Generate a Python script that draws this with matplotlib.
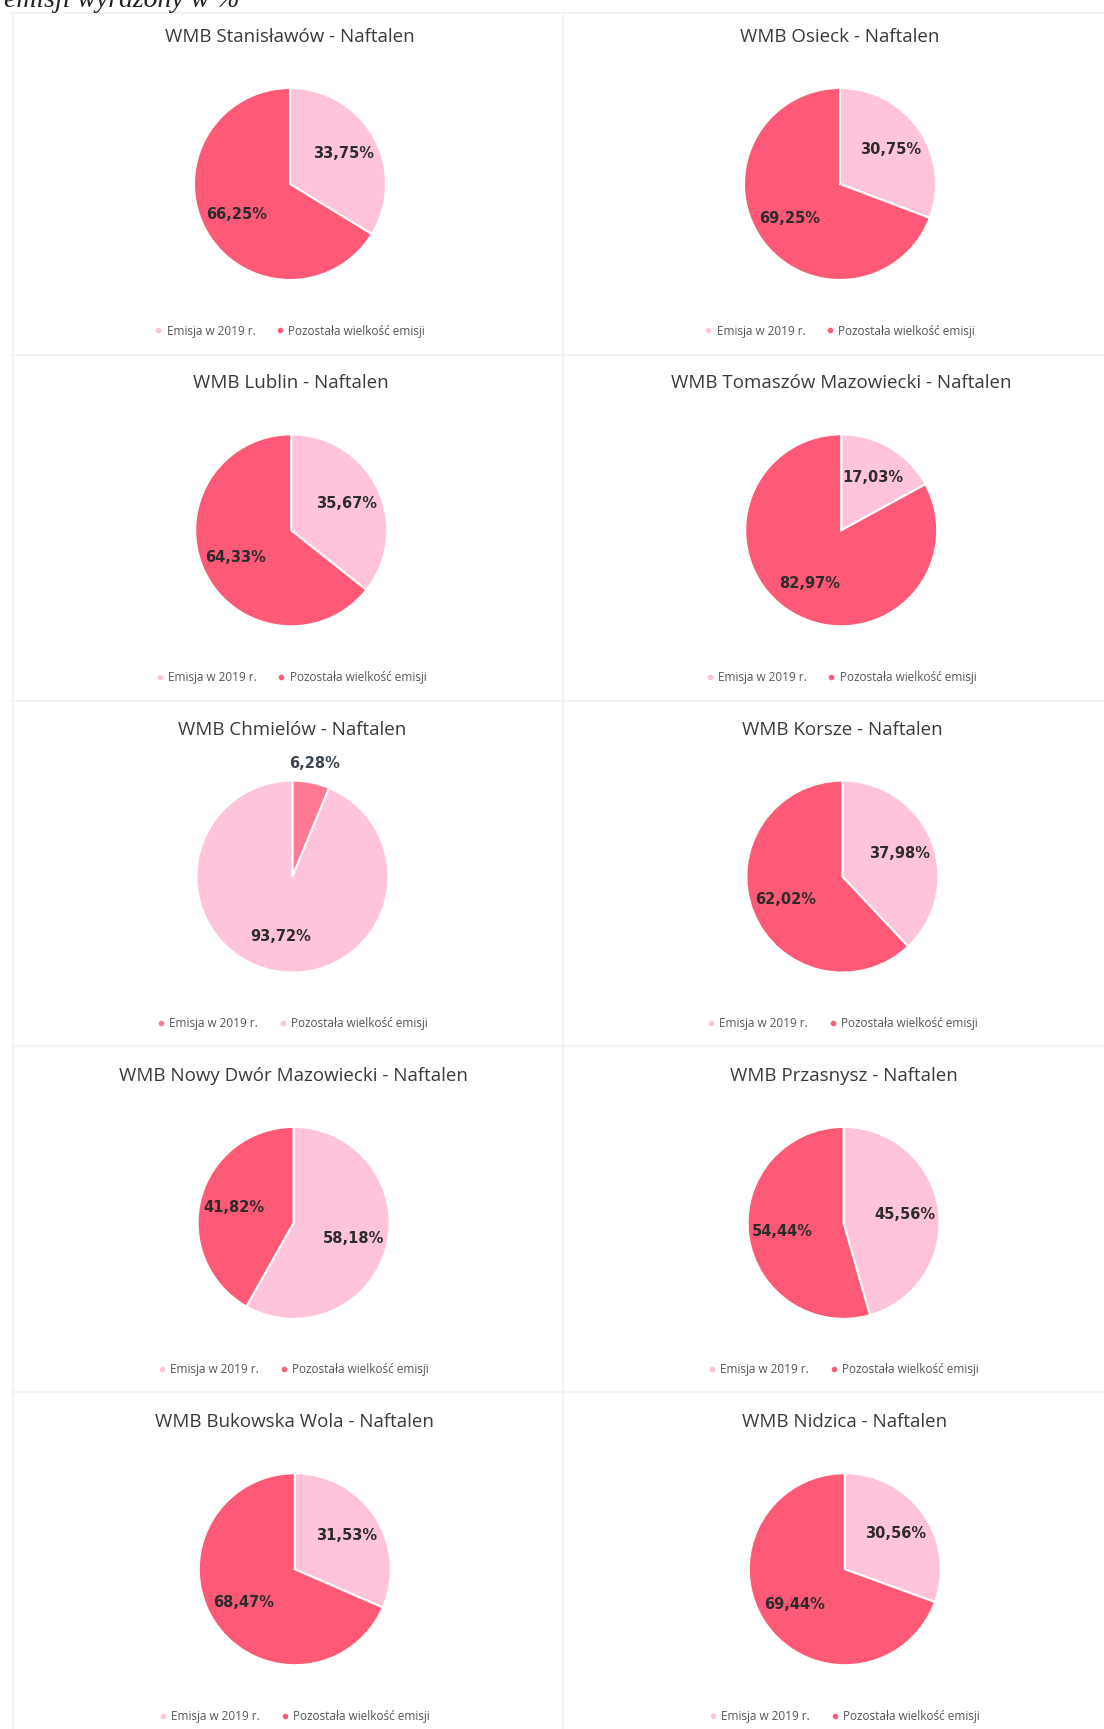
import numpy as np
import matplotlib.pyplot as plt
from matplotlib.lines import Line2D

# Dane: udział emisji w 2019 r. i pozostała wielkość emisji (%)
stations = ['Stanisławów', 'Osieck', 'Lublin', 'Tomaszów Mazowiecki', 'Chmielów',
            'Korsze', 'Nowy Dwór Mazowiecki', 'Przasnysz', 'Bukowska Wola', 'Nidzica']
emisja_2019 = [33.75, 30.75, 35.67, 17.03, 6.28, 37.98, 58.18, 45.56, 31.53, 30.56]
pozostala = [66.25, 69.25, 64.33, 82.97, 93.72, 62.02, 41.82, 54.44, 68.47, 69.44]
series_labels = ['Emisja w 2019 r.', 'Pozostała wielkość emisji']

DARK = '#FE5A78'
LIGHT = '#FFC4DB'
DARK_SOFT = '#FF7A92'

W, H = 1104, 1729
fig = plt.figure(figsize=(W / 100, H / 100), dpi=100)
fig.patch.set_facecolor('white')

# Nagłówek ucięty u góry strony (jak na skanie)
fig.text(0.004, 1 - 7 / H, 'emisji wyrażony w %', fontsize=20, style='italic',
         family='Liberation Serif', color='#222222', va='baseline')

# Delikatne linie podziału paneli (skan)
line_col = '#F3F3F3'
for yy in [13, 355, 701, 1046, 1392]:
    fig.add_artist(Line2D([12 / W, 1.0], [1 - yy / H, 1 - yy / H], color=line_col, lw=1.5))
for xx in [13, 563]:
    fig.add_artist(Line2D([xx / W, xx / W], [0, 1 - 13 / H], color=line_col, lw=1.5))


def fmt(p):
    return ('%.2f%%' % p).replace('.', ',')


R = 96
for i, name in enumerate(stations):
    row, col = divmod(i, 2)
    cx = 290 + col * 550 + row * 1.2
    ty = 37 + row * 346.3
    cy = ty + 147
    ly = cy + 147

    fig.text(cx / W, 1 - ty / H, 'WMB %s - Naftalen' % name, fontsize=13.5,
             family='Open Sans', color='#3a3a3a', ha='center', va='center')

    if name == 'Chmielów':
        colors = [DARK_SOFT, LIGHT]
    else:
        colors = [LIGHT, DARK]

    ax = fig.add_axes([(cx - R) / W, 1 - (cy + R) / H, 2 * R / W, 2 * R / H])
    vals = [emisja_2019[i], pozostala[i]]
    wedges, _, autotexts = ax.pie(vals, colors=colors, startangle=90, counterclock=False,
                                  autopct=fmt, pctdistance=0.64,
                                  wedgeprops=dict(edgecolor='white', linewidth=1.5),
                                  textprops=dict(fontsize=10.5, fontweight='bold',
                                                 color='#2b2b2b', family='DejaVu Sans'))
    for v, w, t in zip(vals, wedges, autotexts):
        if v < 10:
            # mała część - etykieta nad wycinkiem
            ang = np.deg2rad((w.theta1 + w.theta2) / 2)
            t.set_position((1.2 * np.cos(ang), 1.2 * np.sin(ang)))
            t.set_color('#3b4450')
    ax.set_xlim(-1, 1)
    ax.set_ylim(-1, 1)
    ax.axis('off')

    handles = [Line2D([], [], marker='o', ls='', color=c, markersize=3) for c in colors]
    fig.legend(handles, series_labels, loc='center', bbox_to_anchor=(cx / W, 1 - ly / H),
               ncol=2, frameon=False, handlelength=0.6, handletextpad=0.4,
               columnspacing=1.8, labelcolor='#555555', prop=dict(family='Open Sans', size=8.5))

fig.savefig('out.png', dpi=100, facecolor='white')
plt.close(fig)
